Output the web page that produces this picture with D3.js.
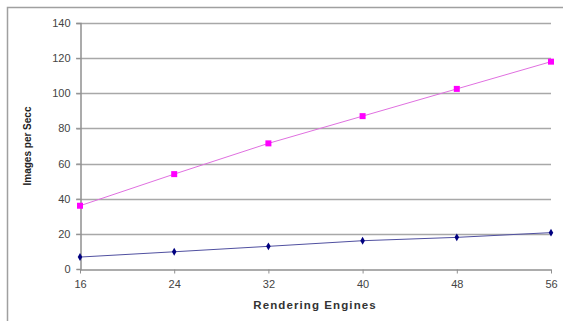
<!DOCTYPE html>
<html><head><meta charset="utf-8">
<script src="https://cdn.jsdelivr.net/npm/d3@7"></script>
<style>body{margin:0;background:#fff}svg{display:block}text{font-family:Arial,"Liberation Sans",sans-serif}</style>
</head><body><svg id="c" width="563" height="321"></svg>
<script>
const categories = [16, 24, 32, 40, 48, 56];
const seriesTop = [36, 54, 71.5, 87, 102.5, 118];
const seriesBottom = [6.8, 9.8, 12.9, 16.1, 18, 20.7];
const yTicks = [0, 20, 40, 60, 80, 100, 120, 140];
const xTitle = "Rendering Engines";
const yTitle = "Images per Secc";

const svg = d3.select("#c");
const L = 80, R = 551, T = 23, B = 269;
const x = d3.scalePoint().domain(categories).range([L, R]);
const y = d3.scaleLinear().domain([0, 140]).range([B, T]);

// outer frame
svg.append("path").attr("d", "M7.5,321 V7.5 H563").attr("fill", "none").attr("stroke", "#a0a0a0").attr("stroke-width", 1.5);

// gridlines
svg.append("g").selectAll("line").data(yTicks.filter(d => d > 0)).join("line")
  .attr("x1", L - 4).attr("x2", R).attr("y1", d => Math.round(y(d)) + 0.5).attr("y2", d => Math.round(y(d)) + 0.5)
  .attr("stroke", "#a8a8a8").attr("stroke-width", 1.5);

// y axis
const ya = svg.append("g").attr("transform", `translate(${L + 0.5},0)`)
  .call(d3.axisLeft(y).tickValues(yTicks).tickSize(4).tickPadding(6));
ya.select(".domain").attr("stroke", "#909090").attr("stroke-width", 1.5);
ya.selectAll(".tick line").attr("stroke", "#909090");
ya.selectAll(".tick text").attr("font-size", 11).attr("fill", "#444").attr("font-family", "Arial, 'Liberation Sans', sans-serif");

// x axis
const xa = svg.append("g").attr("transform", `translate(0,${B + 0.5})`)
  .call(d3.axisBottom(x).tickSize(4).tickPadding(7).tickSizeOuter(0));
xa.select(".domain").attr("stroke", "#909090").attr("stroke-width", 1.5);
xa.selectAll(".tick line").attr("stroke", "#909090");
xa.selectAll(".tick text").attr("font-size", 11).attr("fill", "#444").attr("font-family", "Arial, 'Liberation Sans', sans-serif");

// titles
svg.append("text").attr("x", 315).attr("y", 309).attr("text-anchor", "middle")
  .attr("font-size", 11.5).attr("font-weight", "bold").attr("fill", "#333").attr("letter-spacing", 1.1).text(xTitle);
svg.append("text").attr("transform", "translate(31,146) rotate(-90)").attr("text-anchor", "middle")
  .attr("font-size", 10).attr("font-weight", "bold").attr("fill", "#222").text(yTitle);

const line = d3.line().x((d, i) => x(categories[i])).y(d => y(d));

// top series (magenta)
svg.append("path").datum(seriesTop).attr("d", line).attr("fill", "none").attr("stroke", "#e070e0").attr("stroke-width", 1);
svg.append("g").selectAll("rect").data(seriesTop).join("rect")
  .attr("x", (d, i) => x(categories[i]) - 3).attr("y", d => y(d) - 3).attr("width", 6).attr("height", 6).attr("fill", "#ff00ff");

// bottom series (navy)
svg.append("path").datum(seriesBottom).attr("d", line).attr("fill", "none").attr("stroke", "#5050a0").attr("stroke-width", 1);
svg.append("g").selectAll("path").data(seriesBottom).join("path")
  .attr("d", d3.symbol().type(d3.symbolDiamond).size(18))
  .attr("transform", (d, i) => `translate(${x(categories[i])},${y(d)})`).attr("fill", "#000080");
</script></body></html>
